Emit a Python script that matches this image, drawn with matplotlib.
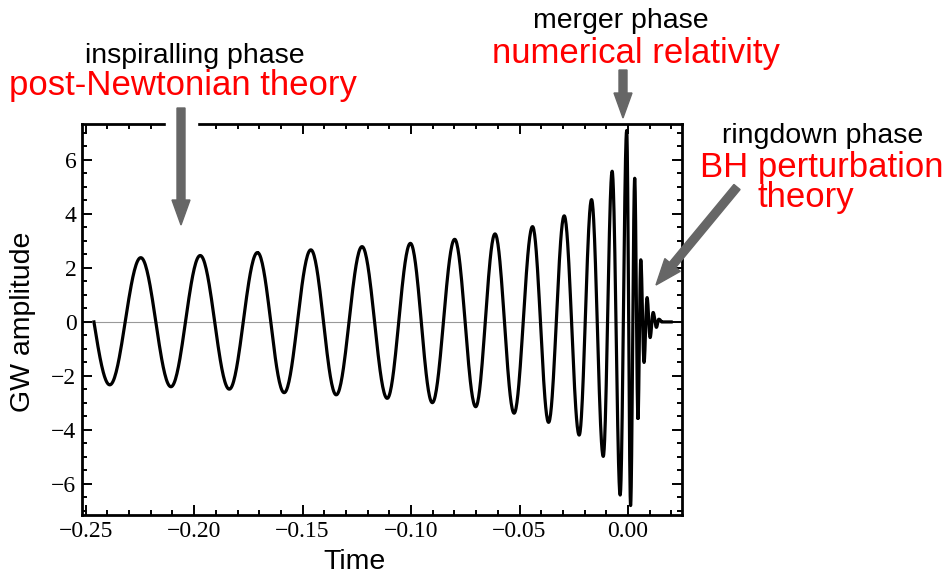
import numpy as np
import matplotlib.pyplot as plt
from matplotlib.patches import FancyArrow, Rectangle
from matplotlib.ticker import MultipleLocator, FuncFormatter

# DADOS: extremos da forma de onda
t_inicio = -0.2462
t_extremos = [-0.2389, -0.2246, -0.2107, -0.1972, -0.1838, -0.1708, -0.1585,
              -0.1462, -0.1345, -0.1226, -0.1110, -0.1003, -0.0902, -0.0799,
              -0.0702, -0.0613, -0.0525, -0.0440, -0.0366, -0.0294, -0.0225,
              -0.0168, -0.0114, -0.0073, -0.0036, -0.0006, 0.0012, 0.0031,
              0.0046, 0.0059, 0.0074, 0.0088, 0.0102, 0.0116, 0.0131, 0.0142]
h_extremos = [-2.33, 2.38, -2.40, 2.46, -2.49, 2.57, -2.62, 2.67, -2.70, 2.79,
              -2.83, 2.91, -2.99, 3.06, -3.14, 3.26, -3.38, 3.53, -3.72, 3.93,
              -4.19, 4.53, -4.98, 5.58, -6.41, 7.09, -6.80, 5.32, -3.57, 2.30,
              -1.50, 0.90, -0.58, 0.35, -0.20, 0.10]
t_repouso = 0.0155
t_fim = 0.0199

x_ticks = [-0.25, -0.20, -0.15, -0.10, -0.05, 0.00]
y_ticks = [-6, -4, -2, 0, 2, 4, 6]

# curva: meio cosseno entre extremos consecutivos
s = np.linspace(0, 1, 40)
ts = [t_inicio + (t_extremos[0] - t_inicio) * s]
hs = [h_extremos[0] * np.sin(np.pi / 2 * s)]
for i in range(len(t_extremos) - 1):
    t0, t1 = t_extremos[i], t_extremos[i + 1]
    a0, a1 = h_extremos[i], h_extremos[i + 1]
    ts.append(t0 + (t1 - t0) * s)
    hs.append((a0 + a1) / 2 + (a0 - a1) / 2 * np.cos(np.pi * s))
ts.append(t_extremos[-1] + (t_repouso - t_extremos[-1]) * s)
hs.append(h_extremos[-1] * np.cos(np.pi / 2 * s))
ts.append(np.array([t_repouso, t_fim]))
hs.append(np.array([0.0, 0.0]))
t = np.concatenate(ts)
h = np.concatenate(hs)

fig = plt.figure(figsize=(9.46, 5.77), dpi=100)
ax = fig.add_axes([82 / 946, 1 - 515 / 577, 600 / 946, 391 / 577])
ax.axhline(0, color='#999999', lw=0.8, zorder=1)
ax.plot(t, h, color='black', lw=2.3, zorder=2)
ax.set_xlim(-0.2517, 0.0249)
ax.set_ylim(-7.15, 7.33)

ax.set_xticks(x_ticks)
ax.set_yticks(y_ticks)
ax.xaxis.set_minor_locator(MultipleLocator(0.01))
ax.yaxis.set_minor_locator(MultipleLocator(0.5))
ax.xaxis.set_major_formatter(FuncFormatter(lambda v, p: ('%.2f' % v).replace('-', '\u2212')))
ax.yaxis.set_major_formatter(FuncFormatter(lambda v, p: ('%d' % v).replace('-', '\u2212')))
ax.tick_params(which='both', direction='in', top=True, right=True, width=1.4)
ax.tick_params(which='major', length=7, labelsize=17, pad=4)
ax.tick_params(which='minor', length=3.5)
for lab in ax.get_xticklabels() + ax.get_yticklabels():
    lab.set_fontfamily('Liberation Serif')
for sp in ax.spines.values():
    sp.set_linewidth(2)

# camada de anotacoes em pixels
ov = fig.add_axes([0, 0, 1, 1], facecolor='none')
ov.set_xlim(0, 946)
ov.set_ylim(577, 0)
ov.axis('off')

fonte = 'Liberation Sans'
cinza = '#666666'
textos = [
    ('inspiralling phase', 195, 63, 20.5, 'black'),
    ('post-Newtonian theory', 182.5, 95, 25, 'red'),
    ('merger phase', 621, 28, 20.5, 'black'),
    ('numerical relativity', 635.5, 63, 25, 'red'),
    ('ringdown phase', 822.5, 143, 20.5, 'black'),
    ('BH perturbation', 822, 177, 25, 'red'),
    ('theory', 805.5, 207, 25, 'red'),
]
for txt, x, y, fs, cor in textos:
    ov.text(x, y, txt, ha='center', va='baseline', fontsize=fs, color=cor, family=fonte)

ov.text(354, 569, 'Time', ha='center', va='baseline', fontsize=20.5, family=fonte)
ov.text(23, 322, 'GW amplitude', ha='center', va='center', rotation=90, fontsize=20.5, family=fonte)

# lacuna na moldura atras da seta
ov.add_patch(Rectangle((166, 118), 31, 16, color='white', zorder=3))
ov.add_patch(FancyArrow(181, 108, 0, 117, width=8, head_width=18, head_length=25,
                        length_includes_head=True, color=cinza, zorder=4))
ov.add_patch(FancyArrow(623, 70, 0, 48, width=8, head_width=18, head_length=25,
                        length_includes_head=True, color=cinza, zorder=4))
ov.add_patch(FancyArrow(737, 187, -81, 98, width=8, head_width=20, head_length=26,
                        length_includes_head=True, color=cinza, zorder=4))

plt.savefig('out.png', dpi=100)
plt.close()
